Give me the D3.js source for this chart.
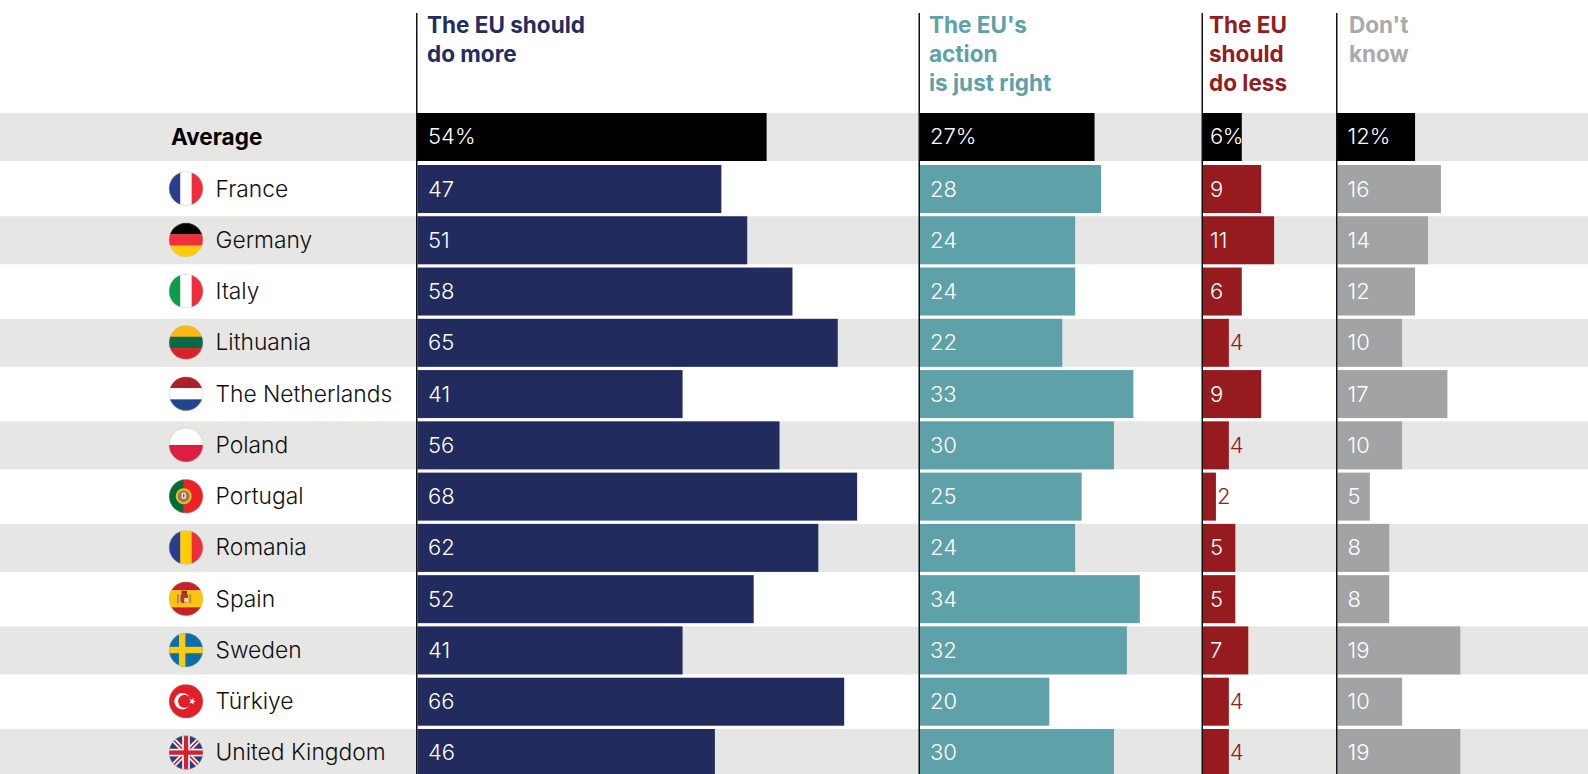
<!DOCTYPE html>
<html><head><meta charset="utf-8">
<script src="https://cdn.jsdelivr.net/npm/d3@7"></script>
<style>html,body{margin:0;padding:0;background:#fff;overflow:hidden}svg{display:block}text{font-family:Inter,sans-serif}</style>
</head><body><div id="c"></div>
<script>
const countries=["France","Germany","Italy","Lithuania","The Netherlands","Poland","Portugal","Romania","Spain","Sweden","Türkiye","United Kingdom"];
const doMore=[47,51,58,65,41,56,68,62,52,41,66,46];
const justRight=[28,24,24,22,33,30,25,24,34,32,20,30];
const doLess=[9,11,6,4,9,4,2,5,5,7,4,4];
const dontKnow=[16,14,12,10,17,10,5,8,8,19,10,19];
const averages=[54,27,6,12];
const headers=[["The EU should","do more"],["The EU's","action","is just right"],["The EU","should","do less"],["Don't","know"]];
const colors=["#212B5D","#5EA1A9","#951B1E","#A2A3A5"];
const headColors=["#232D60","#5EA1A9","#951B1E","#A9AAAC"];
const series=[doMore,justRight,doLess,dontKnow];

const W=1588,H=774;
const svg=d3.select("#c").append("svg").attr("width",W).attr("height",H);
const FS=22.5, VFS=22, LFS=22.8;
const y=d3.scaleBand().domain(countries).range([165,165+51.27*12-3.27]).paddingInner(3.27/51.27).paddingOuter(0);
const bh=48, avgY=113;
const starts=[417.5,920,1203,1337.5], pad=[10.5,10,7,10];
const x=d3.scaleLinear().domain([0,100]).range([0,646.5]);
const cy=c=>y(c)+bh/2;

svg.append("rect").attr("x",0).attr("y",avgY).attr("width",W).attr("height",bh).attr("fill","#E6E6E4");
svg.selectAll("rect.band").data(countries.filter((d,i)=>i%2==1)).join("rect").attr("class","band")
 .attr("x",0).attr("y",d=>y(d)).attr("width",W).attr("height",bh).attr("fill","#E6E6E4");

series.forEach((vals,k)=>{
  const g=svg.append("g");
  const x0=starts[k];
  g.append("rect").attr("x",x0-1).attr("y",avgY).attr("width",x(averages[k])+1).attr("height",bh).attr("fill","#000");
  g.append("text").attr("x",x0+pad[k]).attr("y",avgY+31).attr("fill","#fff").attr("font-size",VFS).attr("font-weight",350).attr("letter-spacing",k==2?-0.6:0).text(averages[k]+"%");
  g.selectAll("rect.b").data(vals).join("rect").attr("class","b")
   .attr("x",x0).attr("y",(d,i)=>y(countries[i])).attr("width",d=>x(d)).attr("height",bh).attr("fill",colors[k]);
  g.selectAll("text.v").data(vals).join("text").attr("class","v")
   .attr("x",d=>(k==2&&d<5)?x0+x(d)+1:x0+pad[k])
   .attr("y",(d,i)=>y(countries[i])+31.5)
   .attr("fill",d=>(k==2&&d<5)?colors[2]:"#fff")
   .attr("font-size",VFS).attr("font-weight",350).text(d=>d);
  g.append("line").attr("x1",x0-0.75).attr("x2",x0-0.75).attr("y1",13).attr("y2",H).attr("stroke","#111").attr("stroke-width",1.5);
  const hx=[427,929,1209,1349][k];
  g.selectAll("text.h").data(headers[k]).join("text").attr("class","h")
   .attr("x",hx).attr("y",(d,i)=>33+i*29).attr("fill",headColors[k])
   .attr("font-size",FS).attr("font-weight",700).text(d=>d);
});

svg.append("text").attr("x",171).attr("y",avgY+32).attr("font-size",FS).attr("font-weight",700).attr("fill","#000").text("Average");
svg.selectAll("text.c").data(countries).join("text").attr("class","c")
 .attr("x",215.5).attr("y",d=>y(d)+31.5).attr("font-size",LFS).attr("font-weight",350).attr("fill","#111").text(d=>d);

const R=17, defs=svg.append("defs");
defs.append("clipPath").attr("id","disc").append("circle").attr("r",R);
const S=2*R;
function hs(g,cols,fr){let t=-R;const f=fr||cols.map(()=>1/cols.length);cols.forEach((c,i)=>{g.append("rect").attr("x",-R).attr("y",t).attr("width",S).attr("height",f[i]*S+.3).attr("fill",c);t+=f[i]*S;});}
function vs(g,cols,fr){let t=-R;const f=fr||cols.map(()=>1/cols.length);cols.forEach((c,i)=>{g.append("rect").attr("y",-R).attr("x",t).attr("height",S).attr("width",f[i]*S+.3).attr("fill",c);t+=f[i]*S;});}
const draw={
 "France":g=>vs(g,["#2B3D8E","#fff","#EE2E3C"]),
 "Germany":g=>hs(g,["#000","#EE2E3C","#FFCC0B"]),
 "Italy":g=>vs(g,["#0E9B4A","#fff","#EE2E3C"]),
 "Lithuania":g=>hs(g,["#FDB913","#056B45","#D9232A"]),
 "The Netherlands":g=>hs(g,["#AE1F2B","#fff","#21468B"]),
 "Poland":g=>hs(g,["#fff","#DC1E41"]),
 "Portugal":g=>{vs(g,["#046A38","#EE2124"],[.43,.57]);
   g.append("circle").attr("cx",-2.3).attr("r",8).attr("fill","#D9C22E");
   g.append("circle").attr("cx",-2.3).attr("r",5.8).attr("fill","#6E8A3A");
   g.append("rect").attr("x",-5.8).attr("y",-5).attr("width",7).attr("height",9).attr("rx",2).attr("fill","#E8604E");
   g.append("rect").attr("x",-4.3).attr("y",-3.4).attr("width",4).attr("height",5.8).attr("rx",1).attr("fill","#fff");
   g.append("rect").attr("x",-3.1).attr("y",-2.2).attr("width",1.6).attr("height",3.4).attr("fill","#3A5BB0");},
 "Romania":g=>vs(g,["#2B3D8E","#FFCE08","#EE2E3C"]),
 "Spain":g=>{hs(g,["#C8202A","#FFC50D","#C8202A"],[.25,.5,.25]);
   g.append("rect").attr("x",-5.5).attr("y",-5.2).attr("width",7.5).attr("height",9.5).attr("rx",2).attr("fill","#B5372B");
   g.append("rect").attr("x",-1.8).attr("y",-.8).attr("width",3.8).attr("height",4.5).attr("fill","#E9D9B0");
   g.append("rect").attr("x",-9).attr("y",-4.5).attr("width",2).attr("height",9).attr("fill","#A58A78");
   g.append("rect").attr("x",3.2).attr("y",-4.5).attr("width",2).attr("height",9).attr("fill","#A58A78");
   g.append("rect").attr("x",-4.5).attr("y",-8).attr("width",5.5).attr("height",3).attr("fill","#8C2A1E");},
 "Sweden":g=>{g.append("rect").attr("x",-R).attr("y",-R).attr("width",S).attr("height",S).attr("fill","#0A6EAA");
   g.append("rect").attr("x",-R).attr("y",-3.2).attr("width",S).attr("height",6.4).attr("fill","#FDCB0A");
   g.append("rect").attr("x",-7).attr("y",-R).attr("width",6.4).attr("height",S).attr("fill","#FDCB0A");},
 "Türkiye":g=>{g.append("rect").attr("x",-R).attr("y",-R).attr("width",S).attr("height",S).attr("fill","#E31E26");
   g.append("circle").attr("cx",-3.5).attr("r",8.2).attr("fill","#fff");
   g.append("circle").attr("cx",-1.4).attr("r",6.5).attr("fill","#E31E26");
   const star=d3.range(10).map(i=>{const a=i*Math.PI/5,r=i%2?1.5:3.7;return [6.3+r*Math.cos(a),r*Math.sin(a)];});
   g.append("polygon").attr("points",star.join(" ")).attr("fill","#fff");},
 "United Kingdom":g=>{g.append("rect").attr("x",-R).attr("y",-R).attr("width",S).attr("height",S).attr("fill","#2B3A7E");
   [[-R,-R,R,R],[-R,R,R,-R]].forEach(l=>{g.append("line").attr("x1",l[0]).attr("y1",l[1]).attr("x2",l[2]).attr("y2",l[3]).attr("stroke","#fff").attr("stroke-width",5);
     g.append("line").attr("x1",l[0]).attr("y1",l[1]).attr("x2",l[2]).attr("y2",l[3]).attr("stroke","#D6202E").attr("stroke-width",1.8);});
   g.append("rect").attr("x",-R).attr("y",-3.8).attr("width",S).attr("height",7.6).attr("fill","#fff");
   g.append("rect").attr("x",-3.8).attr("y",-R).attr("width",7.6).attr("height",S).attr("fill","#fff");
   g.append("rect").attr("x",-R).attr("y",-2.2).attr("width",S).attr("height",4.4).attr("fill","#D6202E");
   g.append("rect").attr("x",-2.2).attr("y",-R).attr("width",4.4).attr("height",S).attr("fill","#D6202E");}
};
const fg=svg.selectAll("g.f").data(countries).join("g").attr("class","f").attr("transform",d=>`translate(186,${cy(d)-.4})`);
fg.each(function(d){const g=d3.select(this).append("g").attr("clip-path","url(#disc)");draw[d](g);
  d3.select(this).append("circle").attr("r",R-.2).attr("fill","none").attr("stroke","#b9b2a8").attr("stroke-opacity",.55).attr("stroke-width",.7);});
</script></body></html>
